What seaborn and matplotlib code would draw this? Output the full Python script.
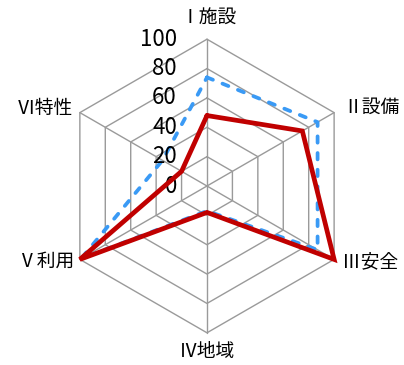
import numpy as np
import pandas as pd
import matplotlib
matplotlib.use("Agg")
import matplotlib.pyplot as plt
import seaborn as sns

categories = ["Ⅰ施設", "Ⅱ設備", "Ⅲ安全", "Ⅳ地域", "Ⅴ利用", "Ⅵ特性"]
series_red = [48, 75, 100, 18, 100, 20]
series_blue = [74, 87, 87, 17, 99, 35]
tick_values = [0, 20, 40, 60, 80, 100]
tick_labels = ["0", "20", "40", "60", "80", "100"]

sns.set_style("white")
plt.rcParams['font.family'] = ['Noto Sans CJK JP', 'DejaVu Sans']

fig = plt.figure(figsize=(4.04, 3.65), dpi=100)
ax = fig.add_axes([0.149, 0.0882, 0.7267, 0.8044], projection='polar')
ax.set_theta_offset(np.pi / 2)
ax.set_theta_direction(-1)
ax.set_ylim(0, 100)
ax.set_xticks([])
ax.set_yticks([])
ax.grid(False)
ax.spines['polar'].set_visible(False)
ax.patch.set_alpha(0)

n = len(categories)
angles = np.linspace(0, 2 * np.pi, n, endpoint=False)
closed = np.append(angles, 2 * np.pi)

grid_color = '#9a9a9a'
for v in tick_values[1:]:
    ax.plot(closed, [v] * (n + 1), color=grid_color, lw=1.0, clip_on=False, zorder=1)
for a in angles:
    ax.plot([a, a], [0, tick_values[-1]], color=grid_color, lw=1.0, clip_on=False, zorder=1)

def close(vals):
    return list(vals) + [vals[0]]

df_blue = pd.DataFrame({'theta': closed, 'r': close(series_blue)})
df_red = pd.DataFrame({'theta': closed, 'r': close(series_red)})

sns.lineplot(data=df_blue, x='theta', y='r', sort=False, estimator=None, ax=ax,
             color='#3A9AF5', linewidth=2.7, linestyle=(0, (1.7, 2.75)),
             dash_capstyle='round', clip_on=False, zorder=3)
sns.lineplot(data=df_red, x='theta', y='r', sort=False, estimator=None, ax=ax,
             color='#C00000', linewidth=3.4, solid_joinstyle='miter',
             clip_on=False, zorder=4)
ax.set_xlabel('')
ax.set_ylabel('')
ax.set_ylim(0, 100)

# radial value labels
for v, lab in zip(tick_values, tick_labels):
    ax.annotate(lab, xy=(0, v), xytext=(-30, 0), textcoords='offset pixels',
                ha='right', va='center', fontsize=16, color='black',
                annotation_clip=False)

# category labels
offsets = [(2, 22, 'center'), (9, 5, 'left'), (8, -2, 'left'),
           (0, -19, 'center'), (-6, -2, 'right'), (-7, 4, 'right')]
for a, lab, (dx, dy, ha) in zip(angles, categories, offsets):
    ax.annotate(lab, xy=(a, 100), xytext=(dx, dy), textcoords='offset pixels',
                ha=ha, va='center', fontsize=13.5, color='black',
                annotation_clip=False)

fig.savefig('out.png', dpi=100)
